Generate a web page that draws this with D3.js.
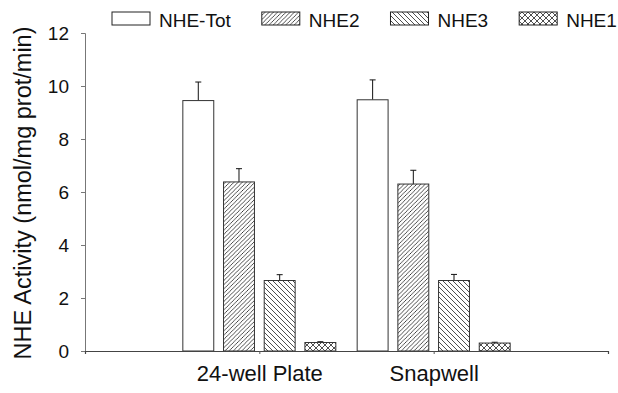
<!DOCTYPE html>
<html>
<head>
<meta charset="utf-8">
<script src="https://cdn.jsdelivr.net/npm/d3@7"></script>
<style>
  body { margin: 0; background: #fff; }
  svg { display: block; font-family: "Liberation Sans", Arial, sans-serif; }
</style>
</head>
<body>
<div id="chart"></div>
<script>
// data
const groups = ["24-well Plate", "Snapwell"];
const series = ["NHE-Tot", "NHE2", "NHE3", "NHE1"];
const means = [
  [9.45, 6.38, 2.66, 0.32],   // 24-well Plate
  [9.48, 6.30, 2.66, 0.30]    // Snapwell
];
const errs = [
  [0.70, 0.50, 0.22, 0.03],
  [0.75, 0.52, 0.23, 0.03]
];
const yTicks = [0, 2, 4, 6, 8, 10, 12];

const W = 618, H = 393;
const margin = { top: 33, right: 10, bottom: 42, left: 85 };
const innerW = W - margin.left - margin.right;
const innerH = H - margin.top - margin.bottom;

const svg = d3.select("#chart").append("svg")
  .attr("width", W).attr("height", H);

// hatch fills
const defs = svg.append("defs");
const hatch = (id, size, d) => {
  defs.append("pattern")
    .attr("id", id)
    .attr("patternUnits", "userSpaceOnUse")
    .attr("width", size).attr("height", size)
    .append("path")
    .attr("d", d)
    .attr("stroke", "#222")
    .attr("stroke-width", 0.8)
    .attr("fill", "none");
};
hatch("fwd", 4.2, "M-1,1 l2,-2 M0,4.2 l4.2,-4.2 M3.2,5.2 l2,-2");
hatch("back", 5, "M-1,4 l2,2 M0,0 l5,5 M4,-1 l2,2");
hatch("cross", 6, "M0,0 l6,6 M6,0 l-6,6");

const fills = {
  "NHE-Tot": "#fff",
  "NHE2": "url(#fwd)",
  "NHE3": "url(#back)",
  "NHE1": "url(#cross)"
};

const g = svg.append("g")
  .attr("transform", `translate(${margin.left},${margin.top})`);

// groups sit at 1 and 2 on a 0..3 axis
const x = d3.scaleLinear().domain([0, 3]).range([0, innerW]);
const y = d3.scaleLinear().domain([0, 12]).range([innerH, 0]);

const groupHalf = 76.5;
const inner = d3.scaleBand().domain(series)
  .range([-groupHalf, groupHalf])
  .paddingInner(0.24);

const rows = [];
groups.forEach((grp, gi) => {
  series.forEach((s, si) => {
    rows.push({ grp, gi, s, v: means[gi][si], e: errs[gi][si] });
  });
});

// error bars (drawn first so the bar outline sits on top)
const eb = g.selectAll(".err").data(rows).enter().append("g")
  .attr("class", "err")
  .attr("stroke", "#111")
  .attr("stroke-width", 1);
eb.append("line")
  .attr("x1", d => x(d.gi + 1) + inner(d.s) + inner.bandwidth() / 2)
  .attr("x2", d => x(d.gi + 1) + inner(d.s) + inner.bandwidth() / 2)
  .attr("y1", d => y(d.v))
  .attr("y2", d => y(d.v + d.e));
eb.append("line")
  .attr("x1", d => x(d.gi + 1) + inner(d.s) + inner.bandwidth() / 2 - 3)
  .attr("x2", d => x(d.gi + 1) + inner(d.s) + inner.bandwidth() / 2 + 3)
  .attr("y1", d => y(d.v + d.e))
  .attr("y2", d => y(d.v + d.e));

g.selectAll(".bar").data(rows).enter().append("rect")
  .attr("class", "bar")
  .attr("x", d => x(d.gi + 1) + inner(d.s))
  .attr("y", d => y(d.v))
  .attr("width", inner.bandwidth())
  .attr("height", d => y(0) - y(d.v))
  .attr("fill", d => fills[d.s])
  .attr("stroke", "#333")
  .attr("stroke-width", 1);

// axes
const yAxis = g.append("g")
  .call(d3.axisLeft(y).tickValues(yTicks).tickSize(4).tickPadding(12));
yAxis.select(".domain").attr("stroke", "#777");
yAxis.selectAll(".tick line").attr("stroke", "#777");
yAxis.selectAll("text")
  .attr("font-size", 19)
  .attr("fill", "#111")
  .attr("font-family", "Liberation Sans, Arial, sans-serif");

const xAxis = g.append("g")
  .attr("transform", `translate(0,${innerH})`)
  .call(d3.axisBottom(x).tickValues([1, 2]).tickSize(3).tickPadding(11)
    .tickFormat(d => groups[d - 1]));
xAxis.select(".domain").attr("stroke", "#444").attr("stroke-width", 1.2);
xAxis.selectAll(".tick line").attr("stroke", "#555");
xAxis.selectAll("text")
  .attr("font-size", 22)
  .attr("fill", "#111")
  .attr("font-family", "Liberation Sans, Arial, sans-serif");

// y title
svg.append("text")
  .attr("transform", `translate(31,${margin.top + innerH / 2 + 1}) rotate(-90)`)
  .attr("text-anchor", "middle")
  .attr("font-size", 23.5)
  .attr("fill", "#111")
  .text("NHE Activity (nmol/mg prot/min)");

// legend across the top
const legend = svg.append("g");
let lx = 112;
series.forEach(s => {
  legend.append("rect")
    .attr("x", lx).attr("y", 12)
    .attr("width", 38).attr("height", 13)
    .attr("fill", fills[s])
    .attr("stroke", "#222")
    .attr("stroke-width", 1);
  const t = legend.append("text")
    .attr("x", lx + 47).attr("y", 27)
    .attr("font-size", 19)
    .attr("fill", "#111")
    .text(s);
  lx += 47 + t.node().getComputedTextLength() + 31;
});
</script>
</body>
</html>
